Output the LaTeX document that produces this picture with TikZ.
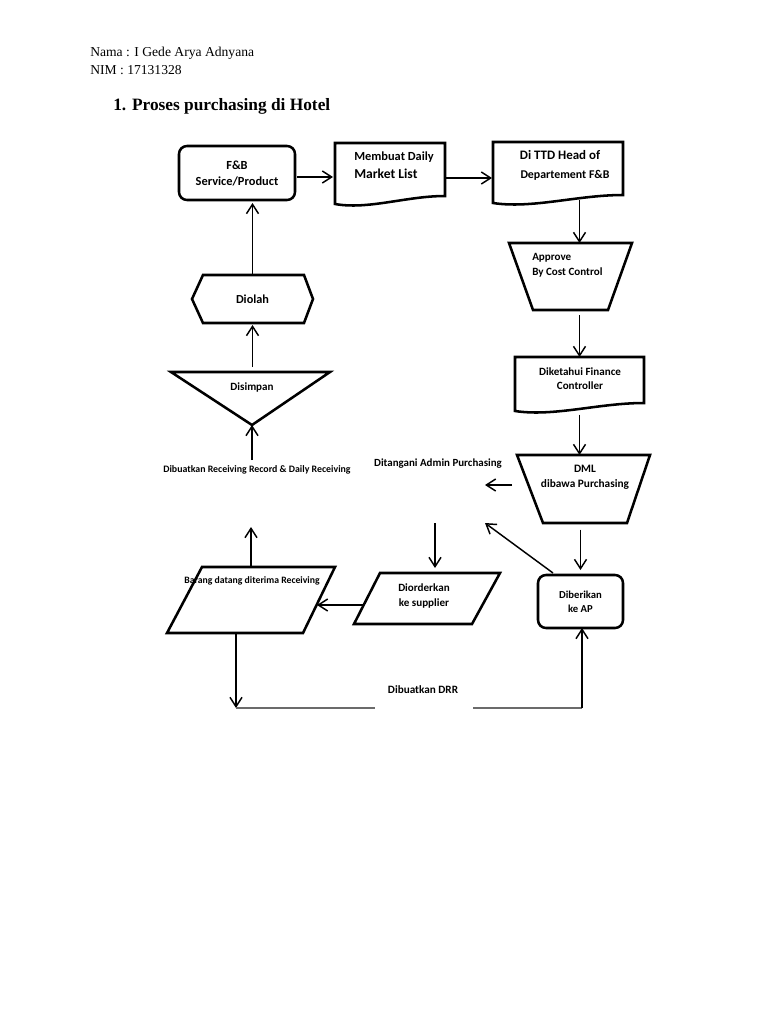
\documentclass[tikz,border=0pt]{standalone}
\usepackage{fontspec}
\setmainfont{Liberation Serif}
\newfontfamily\cbfont{Carlito}
\usetikzlibrary{arrows.meta,calc}
\newcommand\mydocshape[1]{\draw[shp] (#1.north west) -- (#1.north east) -- ($(#1.south east)+(0,-5)$) .. controls ($(#1.south east)!0.35!(#1.south west)+(0,-5)$) and ($(#1.south west)!0.3!(#1.south east)+(0,9)$) .. ($(#1.south west)+(0,3)$) -- cycle;}
\begin{document}
\begin{tikzpicture}[x=0.75pt,y=-0.75pt,
  shp/.style={draw=black,line width=1.9pt},
  rbox/.style={draw=black,line width=1.9pt,rounded corners=6pt},
  box/.style 2 args={minimum width=#1*0.75pt,minimum height=#2*0.75pt,inner sep=0pt,outer sep=0pt},
  lbl/.style 2 args={inner sep=0pt,align=center,font=\cbfont\bfseries\fontsize{#1}{#2}\selectfont},
  arr/.style={line width=1.1pt,-{Straight Barb[length=7pt,width=9pt]}},
  grayline/.style={line width=1.1pt,draw=black!58}]
\fill[white] (0,0) rectangle (768,1024);
\useasboundingbox (0,0) rectangle (768,1024);
% header
\node[anchor=west,inner sep=0pt,font=\fontsize{10.2}{12}\selectfont] (nama) at (90,53) {Nama : I Gede Arya Adnyana};
\node[anchor=west,inner sep=0pt,font=\fontsize{10.2}{12}\selectfont] (nim) at (90,70) {NIM : 17131328};
\node[anchor=west,inner sep=0pt,font=\bfseries\fontsize{13}{15}\selectfont] (title) at (113,106) {1. Proses purchasing di Hotel};
% shapes
\node[rbox,box={116}{54},lbl={9.3}{12}] (fb) at (237,173) {F\&B\\Service/Product};
\node[box={110}{58}] (mdl) at (390,172) {};
\mydocshape{mdl}
\node[lbl={9.3}{11},anchor=west] (mdlt1) at (354,157) {Membuat Daily};
\node[lbl={10.2}{12},anchor=west] (mdlt2) at (354,174) {Market List};
\node[box={130}{58}] (ttd) at (558,171) {};
\mydocshape{ttd}
\node[lbl={9.7}{11}] (ttdt1) at (560,155) {Di TTD Head of};
\node[lbl={8.9}{11}] (ttdt2) at (565,175) {Departement F\&B};
\node[box={123}{67}] (approve) at (570.5,276.5) {};
\draw[shp] (approve.north west) -- (approve.north east) -- ($(approve.south east)+(-24,0)$) -- ($(approve.south west)+(24,0)$) -- cycle;
\node[lbl={8.3}{10},anchor=west] (apt1) at (532,258) {Approve};
\node[lbl={8.3}{10},anchor=west] (apt2) at (532,272) {By Cost Control};
\node[box={129}{51}] (dfc) at (579.5,382.5) {};
\mydocshape{dfc}
\node[lbl={8.3}{10.5}] (dfct) at (580,379) {Diketahui Finance\\Controller};
\node[box={133}{68}] (dml) at (583.5,489) {};
\draw[shp] (dml.north west) -- (dml.north east) -- ($(dml.south east)+(-23,0)$) -- ($(dml.south west)+(26,0)$) -- cycle;
\node[lbl={8.5}{11.25}] (dmlt) at (585,477.5) {DML\\dibawa Purchasing};
\node[rbox,box={85}{53},lbl={8}{10.5}] (dib) at (580.5,601.5) {Diberikan\\ke AP};
\node[box={146}{51}] (dio) at (427,598.5) {};
\draw[shp] ($(dio.north west)+(26,0)$) -- (dio.north east) -- ($(dio.south east)+(-28,0)$) -- (dio.south west) -- cycle;
\node[lbl={8.3}{11.25}] (diot) at (424,595.5) {Diorderkan\\ke supplier};
\node[box={168}{66}] (barang) at (251,600) {};
\draw[shp] ($(barang.north west)+(35,0)$) -- (barang.north east) -- ($(barang.south east)+(-32,0)$) -- (barang.south west) -- cycle;
\node[lbl={7.3}{9}] (barangt) at (252,581) {Barang datang diterima Receiving};
\node[box={121}{48},lbl={9.2}{11}] (diolah) at (252.5,299) {Diolah};
\draw[shp] (diolah.west) -- ($(diolah.north west)+(11,0)$) -- ($(diolah.north east)+(-9,0)$) -- (diolah.east) -- ($(diolah.south east)+(-9,0)$) -- ($(diolah.south west)+(11,0)$) -- cycle;
\node[box={159}{53}] (disimpan) at (250.5,398.5) {};
\draw[shp] (disimpan.north west) -- (disimpan.north east) -- ($(disimpan.south)+(1.5,0)$) -- cycle;
\node[lbl={8.3}{10}] (disimpant) at (252,387) {Disimpan};
% free labels
\node[lbl={8.2}{10}] (adm) at (438,464) {Ditangani Admin Purchasing};
\node[lbl={7.4}{9}] (rr) at (257,470) {Dibuatkan Receiving Record \& Daily Receiving};
\node[lbl={8.4}{10}] (drr) at (423,690) {Dibuatkan DRR};
% coordinates
\coordinate (c1) at (485,485);
\coordinate (c2) at (485,523);
\coordinate (c3) at (435,523);
\coordinate (c4) at (251,527);
\coordinate (c5) at (236,708);
\coordinate (c6) at (375,708);
\coordinate (c7) at (473,708);
\coordinate (c8) at (582,708);
\coordinate (c9) at (252,460);
% connectors
\draw[arr] ($(fb.east)+(2,4)$) -- ($(mdl.west)+(-2,5)$);
\draw[arr] ($(mdl.east)+(0,6)$) -- ($(ttd.west)+(-1,7)$);
\draw[arr] (ttd.south -| dfc.north) -- (approve.north -| dfc.north);
\draw[arr,shorten <=3.75pt] (approve.south -| dfc.north) -- (dfc.north);
\draw[arr,shorten <=5pt] (dfc.south) -- (dml.north -| dfc.south);
\draw[arr,shorten <=3.75pt] (dml.west |- c1) -- (c1);
\draw[arr,shorten <=5pt,shorten >=3.75pt] (dml.south -| dib.north) -- (dib.north);
\draw[arr] ($(dib.north west)+(15,-2)$) -- (c2);
\draw[arr,shorten >=3.75pt] (c3) -- (dio.north -| c3);
\draw[arr] ($(dio.west)+(9,6.5)$) -- ($(barang.east)+(-18,5)$);
\draw[arr] (barang.north) -- (c4);
\draw[arr] (barang.south -| c5) -- (c5);
\draw[grayline] (c5) -- (c6);
\draw[grayline] (c7) -- (c8);
\draw[arr] (c8) -- (dib.south -| c8);
\draw[arr,shorten >=2.25pt] (diolah.north) -- (diolah.north |- fb.south);
\draw[arr,shorten <=3.75pt,shorten >=1.5pt] (disimpan.north -| diolah.south) -- (diolah.south);
\draw[arr] (c9) -- (disimpan.south -| c9);
\end{tikzpicture}
\end{document}
